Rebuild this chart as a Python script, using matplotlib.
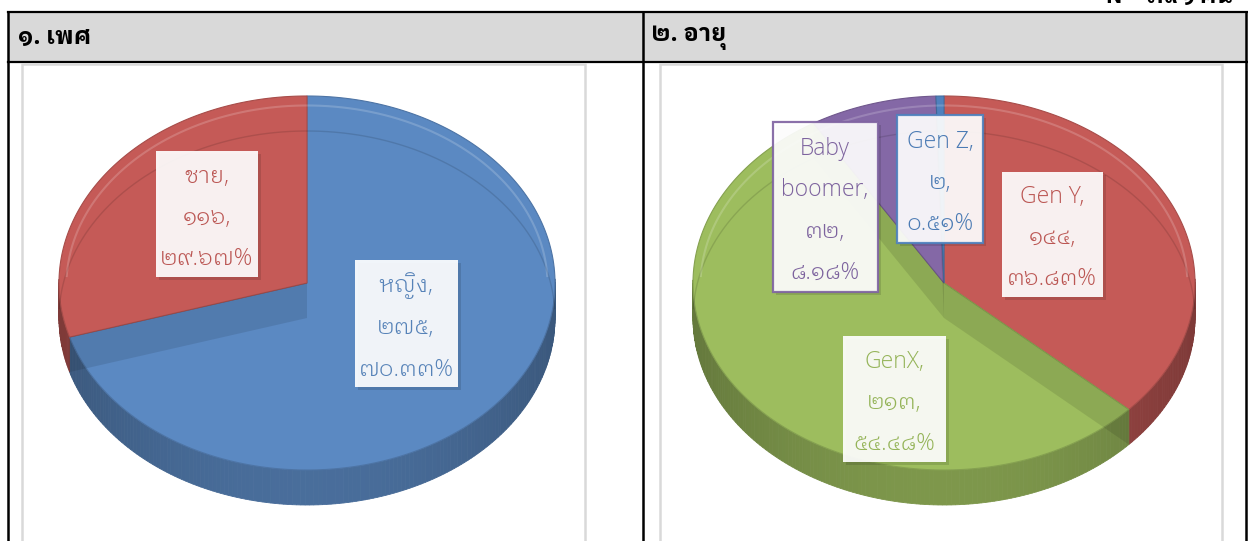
import textwrap
import numpy as np
import matplotlib
matplotlib.use("Agg")
import matplotlib.pyplot as plt
from matplotlib.patches import Polygon, Rectangle
from matplotlib.colors import to_rgb

# ---- data ----
sex_names = ["หญิง", "ชาย"]
sex_counts = [275, 116]
age_names = ["Gen Y", "GenX", "Baby boomer", "Gen Z"]
age_counts = [144, 213, 32, 2]
sex_colors = ["#5b89c2", "#c55a57"]
age_colors = ["#c55a57", "#9dbd5e", "#8468a6", "#4f81bd"]
sex_title = "๑. เพศ"
age_title = "๒. อายุ"
total_note = "N = ๓๙๑ คน"

# label box layout (centre x, centre y, width, height) in pixels
sex_boxes = [(406, 323, 103, 127), (207, 214, 102, 126)]
age_boxes = [(1052, 234, 101, 125), (894, 399, 103, 126),
             (825, 207, 105, 170), (940, 179, 86, 128)]
age_box_edges = [None, None, "#8064a2", "#4f81bd"]

W, H = 1248, 541
LABEL_FONT = ["Open Sans", "IBM Plex Sans Thai Looped", "DejaVu Sans"]
HEAD_FONT = ["IBM Plex Sans Thai Looped", "DejaVu Sans"]

THAI_DIGITS = str.maketrans("0123456789", "๐๑๒๓๔๕๖๗๘๙")


def thai_num(s):
    return s.translate(THAI_DIGITS)


def shade(c, f):
    r, g, b = to_rgb(c)
    return (r * f, g * f, b * f)


def ell(cx, cy, rx, ry, phi, dy=0):
    return cx + rx * np.cos(phi), cy - ry * np.sin(phi) + dy


def pie3d(ax, counts, colors, cx, cy, rx, ry, depth):
    fr = np.array(counts, float) / sum(counts)
    edges = np.concatenate([[0], np.cumsum(fr)]) * 360.0  # clockwise from top
    # front side wall, shaded segments
    for i, c in enumerate(colors):
        a0, a1 = edges[i], edges[i + 1]
        th = np.linspace(a0, a1, max(3, int(a1 - a0) + 2))
        for t0, t1 in zip(th[:-1], th[1:]):
            p0, p1 = np.radians(90 - t0), np.radians(90 - t1)
            if np.sin((p0 + p1) / 2) > 0.02:
                continue
            x0, y0 = ell(cx, cy, rx, ry, p0)
            x1, y1 = ell(cx, cy, rx, ry, p1)
            f = 0.80 - 0.16 * abs(np.cos((p0 + p1) / 2)) ** 2
            ax.add_patch(Polygon([(x0, y0), (x1, y1), (x1, y1 + depth), (x0, y0 + depth)],
                                 closed=True, fc=shade(c, f), ec=shade(c, f), lw=0.6, zorder=2))
    # top wedges
    for i, c in enumerate(colors):
        th = np.radians(90 - np.linspace(edges[i], edges[i + 1], 200))
        xs, ys = ell(cx, cy, rx, ry, th)
        pts = [(cx, cy)] + list(zip(xs, ys))
        ax.add_patch(Polygon(pts, closed=True, fc=c, ec=shade(c, 0.85), lw=0.8, zorder=3))
    # semi-transparent look: radial walls and back bottom edge seen through
    for a in edges[:-1]:
        p = np.radians(90 - a)
        x1, y1 = ell(cx, cy, rx, ry, p)
        ax.add_patch(Polygon([(cx, cy), (x1, y1), (x1, y1 + depth), (cx, cy + depth)],
                             closed=True, fc="black", ec="none", alpha=0.10, zorder=4))
    th = np.linspace(0.05, np.pi - 0.05, 200)
    xs, ys = ell(cx, cy, rx, ry, th, depth)
    ax.plot(xs, ys, color="black", alpha=0.12, lw=1.0, zorder=4)
    xs, ys = ell(cx, cy, rx * 0.97, ry * 0.96, th, 2)
    ax.plot(xs, ys, color="white", alpha=0.18, lw=1.5, zorder=4)
    return fr


def labels(ax, names, counts, fr, colors, boxes, box_edges=None):
    for i, (n, c, col) in enumerate(zip(names, counts, colors)):
        bx, by, bw, bh = boxes[i]
        ax.add_patch(Rectangle((bx - bw / 2 + 3, by - bh / 2 + 3), bw, bh,
                               fc="black", ec="none", alpha=0.12, zorder=5))
        ec = box_edges[i] if box_edges and box_edges[i] else "none"
        ax.add_patch(Rectangle((bx - bw / 2, by - bh / 2), bw, bh, fc="white",
                               ec=ec, lw=1.6, alpha=0.92, zorder=6))
        txt = "%s,\n%s,\n%s%%" % (textwrap.fill(n, 8), thai_num(str(c)),
                                   thai_num("%.2f" % (fr[i] * 100)))
        ax.text(bx, by + 4, txt, ha="center", va="center", fontsize=16.5,
                family=LABEL_FONT, weight=300,
                color=shade(col, 0.95), linespacing=1.95, zorder=7)


fig = plt.figure(figsize=(W / 100, H / 100), dpi=100)
ax = fig.add_axes([0, 0, 1, 1])
ax.set_xlim(0, W)
ax.set_ylim(H, 0)
ax.axis("off")

# table frame
ax.add_patch(Rectangle((8, 12), 1239, 50, fc="#d9d9d9", ec="none", zorder=0))
ax.plot([8, 1247], [12, 12], color="black", lw=1.6, zorder=1)
ax.plot([8, 1247], [62, 62], color="black", lw=1.6, zorder=1)
for x in (8, 643, 1246):
    ax.plot([x, x], [12, H + 5], color="black", lw=1.8, zorder=1)
# chart areas
for x0, x1 in ((22, 585), (660, 1222)):
    ax.add_patch(Rectangle((x0, 64), x1 - x0, 500, fc="white", ec="#d9d9d9", lw=1.8, zorder=1))

ax.text(18, 38, sex_title, ha="left", va="center", fontsize=17, weight="bold", family=HEAD_FONT)
ax.text(651, 38, age_title, ha="left", va="center", fontsize=17, weight="bold", family=HEAD_FONT)
ax.text(1232, 3, total_note, ha="right", va="baseline", fontsize=16, weight="bold", family=HEAD_FONT)

fr = pie3d(ax, sex_counts, sex_colors, 307, 283, 248, 187, 35)
labels(ax, sex_names, sex_counts, fr, sex_colors, sex_boxes)
fr = pie3d(ax, age_counts, age_colors, 944, 283, 251, 187, 35)
labels(ax, age_names, age_counts, fr, age_colors, age_boxes, age_box_edges)

fig.savefig("out.png", dpi=100)
